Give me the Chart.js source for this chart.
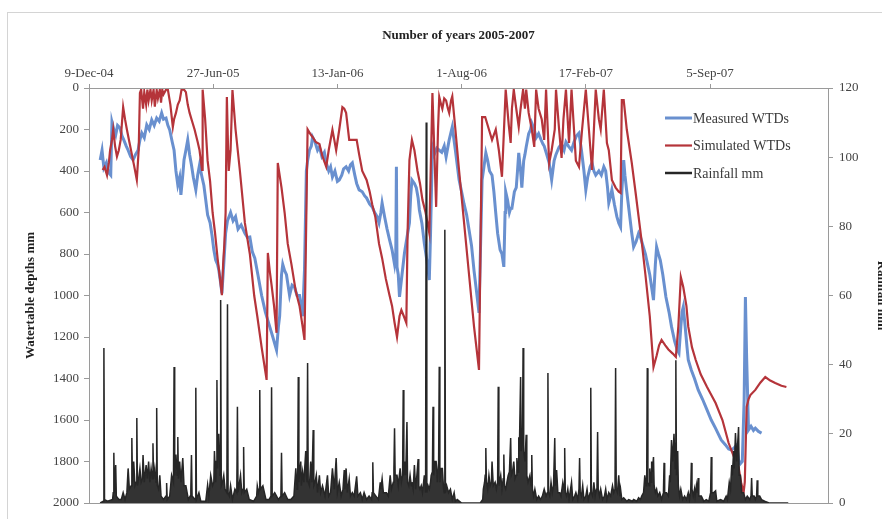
<!DOCTYPE html>
<html><head><meta charset="utf-8">
<script src="https://cdn.jsdelivr.net/npm/chart.js@4/dist/chart.umd.min.js"></script>
<style>
html,body{margin:0;padding:0;background:#fff;overflow:hidden;width:882px;height:519px}
#frame{position:absolute;left:7px;top:12px;width:900px;height:520px;border:1px solid #d4d4d4;}
#c{position:absolute;left:0;top:0}
</style></head><body>
<div id="frame"></div>
<canvas id="c" width="900" height="519"></canvas>
<script>
// x values are days since 9-Dec-04
const tickDays = [0, 200, 400, 600, 800, 1000];
const tickLabels = ['9-Dec-04', '27-Jun-05', '13-Jan-06', '1-Aug-06', '17-Feb-07', '5-Sep-07'];
const seriesNames = ['Measured WTDs', 'Simulated WTDs', 'Rainfall mm'];

const measuredWTD = [
[18,347],[21,300],[24,385],[28,360],[31,405],[35,420],[37,164],[40,200],[43,226],[46,180],[50,193],[53,230],[56,250],[60,280],[63,300],[67,330],[71,347],[75,320],[79,300],[82,250],[85,217],[89,240],[93,178],[97,200],[101,154],[105,180],[109,145],[113,160],[117,120],[120,150],[124,145],[127,180],[130,202],[134,260],[137,300],[140,400],[143,467],[146,430],[148,515],[151,420],[153,347],[156,300],[159,250],[162,320],[165,371],[168,430],[172,491],[175,420],[178,371],[182,430],[185,470],[188,540],[191,612],[195,650],[198,708],[201,780],[204,829],[207,850],[209,877],[212,940],[214,990],[217,850],[220,700],[223,640],[228,600],[232,640],[236,620],[240,680],[245,660],[251,700],[255,720],[259,718],[263,790],[267,820],[272,900],[278,1000],[284,1080],[291,1150],[296,1200],[302,1263],[305,1150],[307,1100],[310,900],[312,850],[315,880],[318,900],[323,1000],[327,950],[331,960],[335,1000],[339,1000],[344,1100],[347,877],[350,400],[352,350],[355,300],[358,280],[360,236],[364,260],[368,300],[371,284],[375,330],[379,310],[382,360],[386,400],[389,380],[392,429],[396,400],[400,450],[403,443],[407,420],[410,390],[414,380],[418,400],[421,370],[424,361],[428,420],[431,460],[435,491],[440,500],[444,520],[447,530],[452,560],[456,573],[460,600],[464,620],[467,650],[470,600],[472,554],[476,620],[480,680],[484,732],[488,780],[492,850],[494,800],[495,380],[496,862],[498,900],[500,1007],[504,900],[508,795],[512,720],[516,650],[518,520],[520,443],[524,460],[527,480],[530,530],[532,588],[536,650],[540,750],[544,830],[548,925],[550,700],[553,284],[556,320],[560,290],[564,300],[568,310],[572,280],[575,332],[580,250],[585,188],[590,300],[596,443],[600,500],[604,560],[608,610],[612,684],[616,760],[620,880],[624,980],[628,1084],[631,700],[633,443],[636,380],[639,313],[642,350],[645,400],[649,420],[652,500],[655,603],[658,700],[662,780],[665,800],[668,862],[670,600],[671,500],[674,540],[677,600],[679,580],[681,580],[685,500],[688,480],[690,400],[692,313],[695,400],[697,480],[700,350],[702,320],[704,284],[708,220],[711,200],[713,169],[717,200],[720,240],[724,220],[728,250],[731,270],[733,280],[737,320],[741,361],[745,443],[749,350],[752,320],[757,284],[761,270],[765,300],[768,260],[772,280],[777,300],[781,260],[785,230],[789,217],[793,300],[797,400],[800,491],[803,430],[807,380],[810,361],[813,400],[816,420],[821,400],[825,420],[829,380],[832,400],[835,480],[837,554],[840,520],[842,491],[846,560],[850,620],[853,650],[856,670],[858,500],[861,347],[863,420],[866,500],[870,600],[874,700],[877,766],[881,740],[885,700],[888,718],[892,760],[896,800],[898,829],[903,900],[906,960],[909,1022],[912,850],[914,766],[917,800],[920,830],[924,900],[929,1007],[934,1080],[938,1150],[943,1220],[947,1260],[950,1277],[953,1150],[955,1080],[957,1055],[960,1150],[963,1250],[965,1311],[970,1360],[975,1400],[981,1455],[988,1500],[995,1550],[1002,1600],[1009,1640],[1018,1696],[1025,1720],[1030,1740],[1035,1745],[1040,1730],[1043,1720],[1046,1793],[1049,1810],[1052,1800],[1055,1500],[1057,1007],[1059,1300],[1062,1648],[1066,1630],[1070,1650],[1073,1640],[1078,1655],[1083,1663]
];

const simulatedWTD = [
[22,395],[25,380],[29,420],[32,360],[34,300],[37,250],[39,200],[42,280],[45,330],[48,300],[51,250],[55,92],[58,150],[61,200],[65,260],[69,320],[73,380],[77,443],[80,300],[82,24],[84,8],[87,100],[89,20],[92,80],[94,8],[96,60],[99,8],[101,60],[104,8],[106,90],[109,10],[111,50],[114,8],[116,70],[118,8],[120,30],[124,8],[127,8],[131,80],[135,188],[137,150],[140,120],[143,80],[146,60],[149,8],[153,8],[156,20],[159,80],[162,120],[166,160],[170,200],[175,260],[178,300],[182,395],[183,8],[187,150],[191,350],[195,450],[199,600],[203,700],[207,820],[211,920],[214,998],[216,850],[218,750],[220,600],[222,43],[224,300],[225,400],[228,300],[231,10],[236,200],[243,400],[251,650],[259,800],[266,1000],[271,1100],[278,1250],[286,1407],[288,795],[291,880],[294,950],[298,1050],[302,1180],[304,361],[310,480],[315,600],[320,750],[326,850],[333,980],[339,1050],[344,1150],[347,1214],[352,200],[356,220],[360,236],[365,260],[371,270],[376,330],[382,380],[386,300],[392,202],[395,250],[398,300],[403,200],[408,92],[411,100],[414,120],[419,250],[424,250],[428,250],[431,250],[435,320],[440,400],[447,443],[452,500],[456,560],[461,620],[467,750],[472,820],[478,920],[484,1000],[488,1050],[492,1130],[496,1200],[500,1100],[503,1070],[507,1100],[511,1132],[513,700],[516,347],[520,250],[524,300],[529,400],[533,460],[537,540],[542,600],[548,699],[553,24],[556,300],[559,573],[562,200],[564,43],[567,80],[569,100],[572,50],[575,60],[578,100],[580,120],[583,60],[585,40],[590,200],[596,400],[604,650],[612,900],[620,1150],[628,1359],[633,140],[638,140],[644,200],[649,250],[655,200],[660,300],[665,428],[671,8],[676,180],[679,265],[681,100],[684,8],[688,100],[692,188],[695,100],[699,8],[702,100],[704,8],[708,120],[713,200],[717,284],[720,8],[724,100],[729,150],[733,250],[736,8],[741,361],[745,300],[750,200],[752,8],[757,200],[761,337],[764,150],[768,8],[773,265],[777,8],[781,200],[784,350],[789,380],[794,200],[800,8],[805,200],[810,395],[816,8],[821,150],[824,200],[829,8],[834,265],[837,300],[842,443],[848,480],[853,500],[856,506],[858,58],[861,58],[866,200],[874,361],[880,500],[885,620],[890,740],[896,900],[903,1100],[909,1345],[914,1290],[918,1240],[922,1214],[928,1240],[933,1260],[940,1280],[945,1296],[949,1150],[953,911],[957,960],[962,1050],[965,1150],[971,1250],[977,1311],[985,1380],[995,1440],[1009,1518],[1020,1600],[1030,1711],[1040,1790],[1046,1827],[1050,1900],[1054,1952],[1056,1900],[1059,1537],[1062,1500],[1065,1480],[1073,1455],[1081,1420],[1089,1393],[1097,1410],[1105,1422],[1115,1435],[1123,1441]
];

const rainfallMm = [
[18,0],[23,0.5],[24,44.8],[25,1],[30,0.5],[38,1],[39,3],[40,14.5],[41,3],[43,11],[44,2],[48,1],[52,1],[55,3],[58,1],[61,3],[63,10],[65,4],[68,5],[69,18.8],[70,6],[72,12],[74,5],[76,6],[77,24.6],[78,5],[80,7],[82,10],[84,6],[86,7],[87,13.9],[89,6],[92,11],[94,7],[96,12],[98,6],[100,10],[102,7],[103,17.3],[104,7],[106,10],[108,6],[109,27.5],[110,5],[112,4],[114,8],[116,2],[120,1],[124,2],[125,5.8],[126,1],[130,2],[133,8],[136,6],[137,39.3],[138,8],[140,14],[142,8],[143,19.1],[144,7],[146,12],[148,6],[151,13],[153,5],[156,5],[160,1],[163,2],[164,4],[165,13.9],[166,2],[171,1],[172,33.3],[173,1],[177,3],[180,0.5],[188,0.5],[191,5.2],[193,2],[196,8],[199,5],[201,6],[202,15],[204,6],[205,12],[206,35.6],[207,10],[209,20],[211,8],[212,58.7],[213,5],[215,6],[217,8],[219,4],[222,3],[223,57.5],[224,3],[226,2],[228,5],[231,1],[235,4],[238,3],[239,27.8],[240,3],[244,8],[246,3],[248,4],[249,16.2],[250,3],[254,4],[258,1],[265,0.5],[270,2],[271,5],[273,3],[274,4],[275,32.7],[276,4],[280,5],[285,1],[290,1],[293,2],[294,33.5],[295,2],[299,3],[305,1],[309,2],[310,14.5],[311,2],[315,3],[320,1],[325,1],[330,2],[333,10],[335,4],[336,6],[337,36.4],[338,6],[341,12],[342,5],[344,9],[346,6],[349,15],[350,8],[351,6],[352,40.5],[353,6],[355,5],[357,12],[359,6],[361,21.1],[362,5],[364,6],[366,8],[368,3],[371,8],[373,3],[376,5],[380,2],[384,8],[386,2],[389,3],[392,10],[395,4],[398,13],[400,3],[403,6],[406,2],[409,4],[411,9.5],[412,4],[414,10],[416,3],[419,7],[421,2],[424,3],[427,2],[431,7.7],[433,2],[437,3],[440,1],[443,3],[447,1],[451,2],[455,1],[456,3],[457,11.8],[458,3],[462,2],[466,1],[469,6],[470,4],[472,7],[474,3],[479,3],[482,2],[485,8],[487,4],[490,6],[491,10],[492,21.6],[493,8],[496,8],[498,5],[501,10],[503,6],[505,8],[506,32.7],[507,8],[509,12],[510,8],[512,23.4],[513,6],[515,5],[517,8],[519,5],[520,6],[522,4],[524,11],[526,4],[528,8],[530,12.7],[531,5],[533,4],[535,5],[537,3],[540,8],[542,3],[543,110],[544,3],[546,5],[548,4],[550,6],[551,8],[553,9],[554,27.8],[555,8],[557,12],[559,12],[561,6],[563,12],[564,39.4],[565,6],[567,10],[569,10],[571,4],[572,3],[573,79],[574,3],[576,5],[579,3],[582,4],[585,1],[588,3],[590,0.5],[593,1],[600,0],[630,0],[634,1],[635,4],[637,6],[638,8],[639,15.9],[640,6],[642,4],[644,8],[646,5],[648,6],[649,12],[651,5],[654,6],[656,4],[658,6],[659,33.6],[660,5],[663,8],[665,4],[667,7],[668,14],[669,5],[671,4],[673,6],[675,8],[677,9],[679,18.8],[680,8],[682,9],[684,12],[686,7],[688,8],[689,13],[691,9],[692,19],[693,15],[695,36.4],[696,15],[698,18],[699,44.8],[700,15],[702,12],[704,19.7],[705,8],[707,6],[710,8],[712,5],[713,13.9],[714,4],[716,2],[718,4],[721,1],[724,2],[727,1],[730,2],[733,4],[736,2],[738,3],[739,37.6],[740,3],[742,2],[744,6],[746,3],[748,5],[750,18.8],[751,5],[753,9.5],[755,3],[758,3],[760,2],[763,6],[765,4],[766,15.9],[767,3],[769,2],[771,4],[773,1],[777,6],[779,1],[782,2],[784,3],[787,1],[789,4],[790,13],[791,3],[793,2],[795,5],[797,1],[800,2],[802,4],[804,1],[807,3],[808,33.3],[809,3],[811,2],[813,6],[815,2],[817,4],[818,5],[819,20.5],[820,4],[822,2],[824,4],[827,1],[830,2],[832,4],[834,1],[837,3],[840,2],[843,5],[845,3],[847,4],[848,39],[849,4],[851,3],[853,8],[855,2],[856,4],[858,1],[861,1.5],[866,0.5],[869,1],[875,0.5],[877,1],[882,0.5],[885,1.5],[888,1],[890,2],[893,3],[895,8],[897,5],[898,6],[899,39],[900,6],[902,5],[903,10],[905,6],[906,12],[907,9],[909,13.3],[910,5],[912,3],[914,4],[916,2],[919,3],[922,1],[925,3],[926,11.6],[927,3],[930,3],[933,2],[935,8],[936,6],[938,18.2],[940,12],[942,20],[943,15],[944,10],[945,41.3],[946,8],[948,15],[949,5],[951,2],[953,4],[956,1],[959,2],[962,1],[965,3],[967,1],[969,4],[970,11.6],[971,4],[973,2],[975,4],[976,2],[978,5],[979,3],[981,7.2],[982,2],[986,2],[990,0.5],[994,1],[998,0.5],[1001,3],[1002,13.3],[1003,3],[1006,3],[1009,3.5],[1011,0.5],[1017,1],[1022,0.5],[1026,2],[1028,1],[1031,6],[1033,4],[1035,11],[1036,8],[1038,15],[1039,10],[1041,20.2],[1043,12],[1046,22],[1047,8],[1049,8],[1051,3],[1054,3],[1057,1],[1060,2],[1064,1],[1066,2],[1067,7.2],[1068,2],[1071,2],[1073,1],[1075,2],[1076,6.6],[1077,2],[1080,2],[1083,1],[1088,0.5],[1095,0],[1126,0]
];

const FONT = "'Liberation Serif', 'Times New Roman', serif";
const COL_MEAS = '#6990cf';
const COL_SIM = '#b5343a';
const COL_RAIN = '#262626';
const AXIS = '#9a9a9a';

const toXY = arr => arr.map(p => ({x: p[0], y: p[1]}));

const framePlugin = {
  id: 'plotFrame',
  afterDraw(chart) {
    const {ctx, chartArea: a} = chart;
    ctx.save();
    ctx.strokeStyle = AXIS;
    ctx.lineWidth = 1;
    ctx.strokeRect(Math.round(a.left) + 0.5, Math.round(a.top) + 0.5, Math.round(a.right - a.left), Math.round(a.bottom - a.top));
    ctx.restore();
  }
};

const legendPlugin = {
  id: 'insideLegend',
  afterDraw(chart) {
    const ctx = chart.ctx;
    const cols = [COL_MEAS, COL_SIM, COL_RAIN];
    const widths = [3, 2.2, 2.5];
    ctx.save();
    ctx.font = "14px " + FONT;
    ctx.textBaseline = 'middle';
    ctx.fillStyle = '#3a3a3a';
    seriesNames.forEach((name, i) => {
      const y = 118 + i * 27.5;
      ctx.strokeStyle = cols[i];
      ctx.lineWidth = widths[i];
      ctx.beginPath();
      ctx.moveTo(665, y);
      ctx.lineTo(692, y);
      ctx.stroke();
      ctx.fillText(name, 693, y + 1);
    });
    ctx.restore();
  }
};

const plain = v => String(v);

new Chart(document.getElementById('c'), {
  type: 'line',
  data: {
    datasets: [
      {label: seriesNames[2], data: toXY(rainfallMm), yAxisID: 'y1', borderColor: COL_RAIN, backgroundColor: '#333333', fill: 'origin', borderWidth: 1.5, pointRadius: 0, tension: 0, order: 0},
      {label: seriesNames[1], data: toXY(simulatedWTD), yAxisID: 'y', borderColor: COL_SIM, backgroundColor: COL_SIM, borderWidth: 2.2, pointRadius: 0, tension: 0, order: 1},
      {label: seriesNames[0], data: toXY(measuredWTD), yAxisID: 'y', borderColor: COL_MEAS, backgroundColor: COL_MEAS, borderWidth: 3, pointRadius: 0, tension: 0, order: 2}
    ]
  },
  options: {
    responsive: false,
    animation: false,
    devicePixelRatio: 1,
    layout: {padding: {left: 0, right: 0, top: 0, bottom: 16}},
    plugins: {legend: {display: false}, tooltip: {enabled: false}, title: {display: false}, filler: {propagate: false}},
    scales: {
      x: {
        type: 'linear', position: 'top', min: 0, max: 1190,
        afterBuildTicks: s => { s.ticks = tickDays.map(v => ({value: v})); },
        afterFit: s => { s.height = 88; },
        ticks: {
          autoSkip: false, maxRotation: 0, padding: 3,
          callback: v => { const i = tickDays.indexOf(v); return i >= 0 ? tickLabels[i] : ''; },
          font: {family: FONT, size: 13}, color: '#444'
        },
        grid: {drawOnChartArea: false, drawTicks: true, tickLength: 4, color: AXIS},
        border: {display: true, color: AXIS},
        title: {display: true, text: 'Number of years 2005-2007', color: '#222',
          font: {family: FONT, size: 13, weight: 'bold'}, padding: {top: 28, bottom: 0}}
      },
      y: {
        position: 'left', reverse: true, min: 0, max: 2000,
        afterFit: s => { s.width = 89; },
        ticks: {stepSize: 200, padding: 5, callback: plain, font: {family: FONT, size: 13}, color: '#444'},
        grid: {drawOnChartArea: false, drawTicks: true, tickLength: 5, color: AXIS},
        border: {display: true, color: AXIS},
        title: {display: true, text: 'Watertable depths mm', color: '#222',
          font: {family: FONT, size: 13, weight: 'bold'}, padding: {top: 23, bottom: 0}}
      },
      y1: {
        position: 'right', min: 0, max: 120,
        afterFit: s => { s.width = 72; },
        ticks: {stepSize: 20, padding: 6, callback: plain, font: {family: FONT, size: 13}, color: '#444'},
        grid: {drawOnChartArea: false, drawTicks: true, tickLength: 5, color: AXIS},
        border: {display: true, color: AXIS},
        title: {display: true, text: 'Rainfall mm', color: '#222',
          font: {family: FONT, size: 13, weight: 'bold'}, padding: {top: 11, bottom: 0}}
      }
    }
  },
  plugins: [framePlugin, legendPlugin]
});
</script>
</body></html>
